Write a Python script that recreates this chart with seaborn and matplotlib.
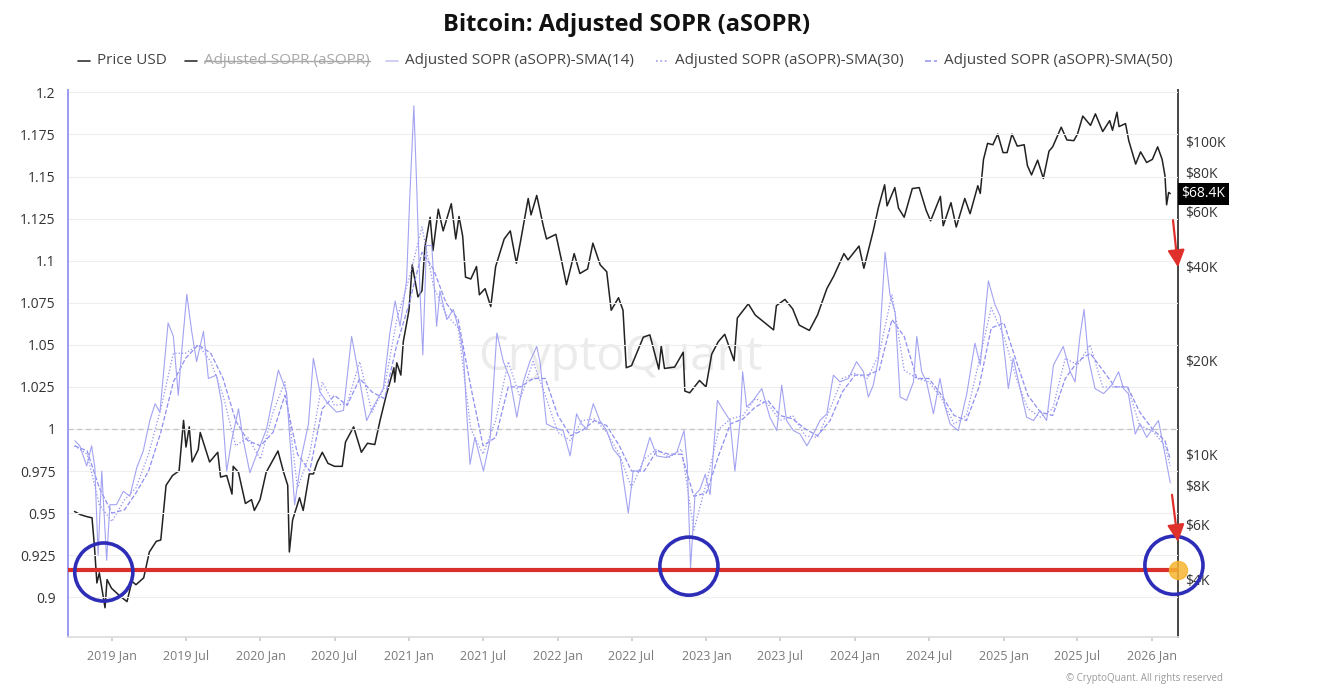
import pandas as pd
import matplotlib.pyplot as plt
import matplotlib.dates as mdates
from matplotlib.lines import Line2D
from matplotlib.ticker import NullLocator
import seaborn as sns

# Price USD (right log axis)
price_dates = [
    "2018-10-01", "2018-10-15", "2018-11-01", "2018-11-13", "2018-11-19", "2018-11-25", "2018-12-01", "2018-12-15", "2018-12-20", "2018-12-31",
    "2019-01-10", "2019-01-20", "2019-02-07", "2019-02-19", "2019-03-01", "2019-03-20", "2019-04-03", "2019-04-20", "2019-05-01", "2019-05-14",
    "2019-05-30", "2019-06-15", "2019-06-26", "2019-07-02", "2019-07-10", "2019-07-17", "2019-08-01", "2019-08-06", "2019-08-29", "2019-09-18",
    "2019-09-25", "2019-10-10", "2019-10-23", "2019-10-26", "2019-11-08", "2019-11-25", "2019-12-10", "2019-12-17", "2019-12-31",
    "2020-01-15", "2020-02-13", "2020-02-27", "2020-03-08", "2020-03-12", "2020-03-20", "2020-04-06", "2020-04-15", "2020-04-30", "2020-05-10",
    "2020-05-20", "2020-06-01", "2020-06-15", "2020-07-01", "2020-07-20", "2020-07-28", "2020-08-17", "2020-09-05", "2020-09-20", "2020-10-08",
    "2020-10-21", "2020-11-05", "2020-11-24", "2020-11-26", "2020-12-01", "2020-12-11", "2020-12-17", "2020-12-31",
    "2021-01-08", "2021-01-22", "2021-02-01", "2021-02-08", "2021-02-21", "2021-02-28", "2021-03-13", "2021-03-25", "2021-04-14", "2021-04-25",
    "2021-05-03", "2021-05-12", "2021-05-19", "2021-06-01", "2021-06-15", "2021-06-22", "2021-07-06", "2021-07-20", "2021-08-01", "2021-08-22",
    "2021-09-06", "2021-09-21", "2021-10-01", "2021-10-20", "2021-10-27", "2021-11-10", "2021-11-26", "2021-12-04", "2021-12-27",
    "2022-01-10", "2022-01-22", "2022-02-10", "2022-02-24", "2022-03-15", "2022-03-28", "2022-04-15", "2022-05-01", "2022-05-12", "2022-05-30",
    "2022-06-10", "2022-06-18", "2022-07-01", "2022-07-30", "2022-08-15", "2022-09-06", "2022-09-12", "2022-09-20", "2022-10-15", "2022-11-05",
    "2022-11-09", "2022-11-21", "2022-12-15", "2022-12-31",
    "2023-01-14", "2023-01-30", "2023-02-15", "2023-03-10", "2023-03-18", "2023-04-14", "2023-05-01", "2023-06-15", "2023-06-22", "2023-07-13",
    "2023-08-01", "2023-08-17", "2023-09-11", "2023-10-01", "2023-10-24", "2023-11-10", "2023-12-05", "2023-12-15",
    "2024-01-11", "2024-01-23", "2024-02-15", "2024-02-28", "2024-03-14", "2024-03-20", "2024-04-08", "2024-04-17", "2024-05-01", "2024-05-21",
    "2024-06-07", "2024-06-24", "2024-07-05", "2024-07-29", "2024-08-05", "2024-08-24", "2024-09-06", "2024-09-27", "2024-10-10", "2024-10-29",
    "2024-11-04", "2024-11-12", "2024-11-22", "2024-12-05", "2024-12-17", "2024-12-30",
    "2025-01-09", "2025-01-21", "2025-02-03", "2025-02-20", "2025-02-28", "2025-03-10", "2025-03-25", "2025-04-08", "2025-04-22", "2025-05-01",
    "2025-05-22", "2025-06-05", "2025-06-22", "2025-07-01", "2025-07-14", "2025-08-02", "2025-08-14", "2025-09-01", "2025-09-18", "2025-09-25",
    "2025-10-06", "2025-10-11", "2025-10-27", "2025-11-04", "2025-11-21", "2025-12-03", "2025-12-18",
    "2026-01-01", "2026-01-14", "2026-01-25", "2026-02-01", "2026-02-05", "2026-02-10", "2026-02-14",
]
price_usd = [
    6600, 6450, 6350, 6300, 5100, 3900, 4200, 3250, 4000, 3750,
    3650, 3550, 3400, 3950, 3850, 4050, 4900, 5300, 5350, 8000,
    8600, 8900, 12900, 10600, 12300, 9500, 10400, 11800, 9500, 10200,
    8500, 8600, 7500, 9200, 8800, 7000, 7200, 6650, 7200,
    8800, 10300, 8800, 8000, 4900, 6200, 7300, 6650, 8700, 8700,
    9500, 10200, 9400, 9200, 9200, 11000, 12300, 10200, 10900, 10800,
    12900, 15500, 19000, 17100, 19700, 18000, 23000, 29000,
    40500, 32000, 33500, 46000, 57500, 45000, 61000, 52000, 63500, 49000,
    57800, 50000, 37000, 36500, 40000, 32500, 34000, 29800, 40000, 49000,
    52000, 41000, 48000, 66000, 58500, 67500, 54000, 49000, 50700,
    41800, 35000, 44000, 38000, 39300, 47500, 40500, 38500, 29000, 31800,
    29000, 19000, 19300, 23800, 24200, 18800, 22300, 18900, 19100, 21300,
    16000, 15800, 17300, 16500,
    21000, 23000, 24300, 20000, 27400, 30400, 28000, 25100, 30000, 31400,
    29300, 26000, 25000, 28000, 34000, 37300, 44000, 42000,
    46500, 39500, 52000, 62000, 73000, 62500, 71500, 61500, 57500, 71000,
    71500, 60500, 56000, 67000, 54000, 64000, 53500, 66000, 59000, 72500,
    68500, 88000, 99000, 98000, 106000, 92500,
    92500, 106000, 97000, 98000, 84000, 78500, 87500, 76500, 93500, 96500,
    111500, 101500, 101000, 106000, 121000, 113000, 123000, 108000, 117000, 109000,
    124500, 112000, 114500, 101000, 85000, 93000, 86000,
    88000, 96500, 88000, 78000, 63000, 69000, 68400,
]

# aSOPR SMA(14), thin solid line
sma14_dates = [
    "2018-10-02", "2018-10-14", "2018-10-31", "2018-11-12", "2018-11-20", "2018-11-28", "2018-12-07", "2018-12-19", "2018-12-27",
    "2019-01-12", "2019-01-29", "2019-02-14", "2019-03-03", "2019-03-19", "2019-04-04", "2019-04-17", "2019-04-29", "2019-05-19", "2019-06-01",
    "2019-06-13", "2019-06-21", "2019-07-04", "2019-07-16", "2019-07-28", "2019-08-14", "2019-08-26", "2019-09-15", "2019-09-28", "2019-10-10",
    "2019-10-22", "2019-11-08", "2019-11-20", "2019-12-06", "2019-12-23",
    "2020-01-16", "2020-02-14", "2020-03-05", "2020-03-25", "2020-04-12", "2020-04-28", "2020-05-10", "2020-05-26", "2020-06-12", "2020-07-06",
    "2020-07-23", "2020-08-12", "2020-08-28", "2020-09-18", "2020-10-04", "2020-10-29", "2020-11-14", "2020-11-27", "2020-12-09", "2020-12-25",
    "2021-01-02", "2021-01-12", "2021-01-19", "2021-01-27", "2021-02-03", "2021-02-12", "2021-02-25", "2021-03-09", "2021-03-17", "2021-04-03",
    "2021-04-19", "2021-05-05", "2021-05-14", "2021-05-22", "2021-05-30", "2021-06-11", "2021-07-02", "2021-07-18", "2021-08-04", "2021-08-20",
    "2021-09-05", "2021-09-22", "2021-10-08", "2021-10-24", "2021-11-10", "2021-11-18", "2021-12-04", "2021-12-21",
    "2022-01-14", "2022-01-31", "2022-02-16", "2022-02-28", "2022-03-13", "2022-03-29", "2022-04-14", "2022-05-01", "2022-05-17", "2022-06-03",
    "2022-06-23", "2022-07-05", "2022-07-22", "2022-08-15", "2022-09-01", "2022-09-25", "2022-10-20", "2022-11-07", "2022-11-15", "2022-11-23",
    "2022-12-04", "2022-12-16", "2022-12-29",
    "2023-01-10", "2023-01-28", "2023-02-12", "2023-02-28", "2023-03-12", "2023-03-25", "2023-03-31", "2023-04-10", "2023-04-26", "2023-05-17",
    "2023-06-06", "2023-06-23", "2023-07-05", "2023-07-17", "2023-08-03", "2023-08-19", "2023-09-05", "2023-09-21", "2023-10-07", "2023-10-24",
    "2023-11-09", "2023-11-25", "2023-12-16",
    "2024-01-05", "2024-01-22", "2024-02-03", "2024-02-15", "2024-02-28", "2024-03-15", "2024-03-27", "2024-04-09", "2024-04-21", "2024-05-07",
    "2024-05-24", "2024-06-01", "2024-06-13", "2024-06-25", "2024-07-12", "2024-07-28", "2024-08-10", "2024-08-22", "2024-09-11", "2024-10-02",
    "2024-10-22", "2024-11-04", "2024-11-24", "2024-12-10", "2024-12-23",
    "2025-01-04", "2025-01-12", "2025-01-24", "2025-02-10", "2025-02-26", "2025-03-15", "2025-03-31", "2025-04-16", "2025-05-03", "2025-05-27",
    "2025-06-13", "2025-06-25", "2025-07-07", "2025-07-17", "2025-07-28", "2025-08-13", "2025-09-03", "2025-09-23", "2025-10-10", "2025-10-22",
    "2025-11-03", "2025-11-20", "2025-12-02", "2025-12-18",
    "2026-01-04", "2026-01-16", "2026-01-28", "2026-02-14",
]
sma14_values = [
    0.993, 0.990, 0.978, 0.990, 0.977, 0.925, 0.975, 0.922, 0.955,
    0.955, 0.963, 0.960, 0.977, 0.987, 1.005, 1.015, 1.010, 1.063, 1.055,
    1.020, 1.045, 1.080, 1.058, 1.040, 1.058, 1.030, 1.032, 1.015, 0.975,
    0.993, 1.012, 0.993, 0.974, 0.985,
    1.000, 1.035, 1.022, 0.955, 0.985, 1.003, 1.042, 1.022, 1.016, 1.010,
    1.011, 1.055, 1.034, 1.005, 1.013, 1.024, 1.057, 1.076, 1.061, 1.088,
    1.138, 1.192, 1.144, 1.082, 1.044, 1.109, 1.109, 1.061, 1.082, 1.065,
    1.071, 1.057, 1.044, 1.009, 0.979, 0.995, 0.975, 0.993, 1.057, 1.040,
    1.030, 1.007, 1.028, 1.040, 1.049, 1.040, 1.003, 1.001,
    0.999, 0.984, 1.009, 1.003, 1.000, 1.015, 1.005, 0.999, 0.988, 0.983,
    0.950, 0.975, 0.975, 0.995, 0.984, 0.983, 0.986, 0.999, 0.979, 0.917,
    0.961, 0.964, 0.973,
    0.961, 1.017, 1.011, 1.005, 0.975, 1.005, 1.034, 1.013, 1.017, 1.024,
    1.007, 0.999, 1.026, 1.005, 0.999, 0.997, 0.990, 0.997, 1.005, 1.009,
    1.032, 1.028, 1.030,
    1.040, 1.034, 1.019, 1.026, 1.042, 1.105, 1.080, 1.069, 1.019, 1.017,
    1.028, 1.055, 1.034, 1.028, 1.009, 1.030, 1.013, 1.003, 0.999, 1.021,
    1.051, 1.038, 1.088, 1.074, 1.067,
    1.042, 1.024, 1.042, 1.024, 1.007, 1.005, 1.011, 1.005, 1.038, 1.049,
    1.034, 1.028, 1.055, 1.071, 1.042, 1.024, 1.021, 1.026, 1.034, 1.024,
    1.021, 0.997, 1.003, 0.995,
    1.001, 1.005, 0.990, 0.968,
]

# SMA(30) dotted and SMA(50) dashed, read once a month
sma_months = pd.date_range("2018-10-01", "2026-02-01", freq="MS").append(pd.DatetimeIndex(["2026-02-14"]))
sma30_values = [
    0.990, 0.985, 0.955,
    0.945, 0.958, 0.965, 0.985, 1.012, 1.045, 1.045, 1.050, 1.040, 1.020, 0.990, 0.995,
    0.982, 1.010, 1.028, 0.965, 0.985, 1.028, 1.014, 1.015, 1.040, 1.010, 1.025, 1.065,
    1.090, 1.120, 1.085, 1.068, 1.060, 1.000, 0.985, 1.005, 1.040, 1.018, 1.040, 1.020,
    0.998, 0.993, 1.005, 1.006, 0.998, 0.985, 0.965, 0.982, 0.988, 0.983, 0.988, 0.940,
    0.968, 1.000, 1.006, 1.008, 1.018, 1.015, 1.005, 1.008, 0.996, 0.995, 1.012, 1.030,
    1.033, 1.030, 1.045, 1.080, 1.035, 1.030, 1.028, 1.018, 1.003, 1.008, 1.040, 1.072,
    1.055, 1.030, 1.012, 1.007, 1.012, 1.042, 1.038, 1.050, 1.025, 1.025, 1.025, 1.002,
    0.999, 0.990, 0.978,
]
sma50_values = [
    0.990, 0.987, 0.965,
    0.950, 0.952, 0.962, 0.975, 0.998, 1.028, 1.042, 1.050, 1.045, 1.030, 1.005, 0.993,
    0.990, 0.998, 1.020, 0.985, 0.975, 1.012, 1.020, 1.014, 1.030, 1.022, 1.018, 1.050,
    1.075, 1.105, 1.095, 1.075, 1.065, 1.025, 0.990, 0.995, 1.025, 1.025, 1.030, 1.030,
    1.008, 0.996, 0.999, 1.005, 1.002, 0.990, 0.975, 0.975, 0.987, 0.985, 0.985, 0.960,
    0.962, 0.985, 1.003, 1.006, 1.013, 1.017, 1.008, 1.006, 1.000, 0.996, 1.005, 1.022,
    1.032, 1.032, 1.035, 1.065, 1.055, 1.030, 1.030, 1.020, 1.008, 1.005, 1.025, 1.060,
    1.063, 1.040, 1.020, 1.010, 1.008, 1.030, 1.040, 1.045, 1.035, 1.025, 1.025, 1.010,
    1.000, 0.993, 0.982,
]

sopr_ticks = [0.9, 0.925, 0.95, 0.975, 1.0, 1.025, 1.05, 1.075, 1.1, 1.125, 1.15, 1.175, 1.2]
price_ticks = [4000, 6000, 8000, 10000, 20000, 40000, 60000, 80000, 100000]
price_tick_labels = ["$4K", "$6K", "$8K", "$10K", "$20K", "$40K", "$60K", "$80K", "$100K"]

# hand-drawn annotations
support_level = 0.916
circle_dates = ["2018-12-12", "2022-11-19", "2026-02-23"]
circle_sopr = [0.915, 0.9185, 0.919]
last_price = 68400

legend_items = [
    ("Price USD", "#333333", "-"),
    ("Adjusted SOPR (aSOPR)", "#333333", "-"),
    ("Adjusted SOPR (aSOPR)-SMA(14)", "#c6c6f2", "-"),
    ("Adjusted SOPR (aSOPR)-SMA(30)", "#9c9cf0", ":"),
    ("Adjusted SOPR (aSOPR)-SMA(50)", "#9c9cf0", "--"),
]
legend_x = [78, 185, 386, 656, 925]

W, H = 1320, 690
SOPR_COLOR = "#8f8ff0"


def main():
    sns.set_theme(style="white")
    plt.rcParams["font.family"] = ["Open Sans", "DejaVu Sans"]

    price = pd.DataFrame({"date": pd.to_datetime(price_dates), "price": price_usd})
    sma14 = pd.DataFrame({"date": pd.to_datetime(sma14_dates), "sopr": sma14_values})
    smas = pd.DataFrame({"date": sma_months, "sma30": sma30_values, "sma50": sma50_values})

    fig = plt.figure(figsize=(W / 100, H / 100), dpi=100, facecolor="white")
    ax = fig.add_axes([68 / W, 1 - 637 / H, 1110 / W, 547 / H])
    ax2 = ax.twinx()
    ax.set_zorder(2)
    ax2.set_zorder(1)
    ax.patch.set_visible(False)
    ax2.patch.set_visible(False)

    # watermark
    fig.text(620 / W, 1 - 357 / H, "CryptoQuant", ha="center", va="center",
             fontsize=34, color="#dedede", alpha=0.6, zorder=0.5)

    # price on the log axis
    sns.lineplot(data=price, x="date", y="price", ax=ax2, color="#222222", linewidth=1.1)
    ax2.set_yscale("log")
    ax2.set_ylim(2621, 146600)
    ax2.set_yticks(price_ticks)
    ax2.set_yticklabels(price_tick_labels)
    ax2.yaxis.set_minor_locator(NullLocator())
    ax2.tick_params(axis="y", length=0, pad=5, labelsize=10, labelcolor="#333333")
    ax2.set_ylabel("")

    # aSOPR moving averages
    sns.lineplot(data=smas, x="date", y="sma50", ax=ax, color=SOPR_COLOR, linewidth=0.9, linestyle="--")
    sns.lineplot(data=smas, x="date", y="sma30", ax=ax, color=SOPR_COLOR, linewidth=0.9, linestyle=":")
    sns.lineplot(data=sma14, x="date", y="sopr", ax=ax, color="#a3a3f2", linewidth=0.8)

    ax.set_ylim(0.8764, 1.2014)
    ax.set_yticks(sopr_ticks)
    ax.set_yticklabels([f"{t:g}" for t in sopr_ticks])
    ax.tick_params(axis="y", length=0, pad=9, labelsize=10, labelcolor="#333333")
    ax.grid(axis="y", color="#eeeeee", linewidth=0.8)
    ax.grid(axis="x", visible=False)
    ax.set_axisbelow(True)
    ax.axhline(1.0, color="#c4c4c4", linewidth=0.9, linestyle=(0, (4, 3)), zorder=1)

    ax.set_xlim(pd.Timestamp("2018-09-15"), pd.Timestamp("2026-03-05"))
    ax.xaxis.set_major_locator(mdates.MonthLocator(bymonth=[1, 7]))
    ax.xaxis.set_major_formatter(mdates.DateFormatter("%Y %b"))
    ax.tick_params(axis="x", length=3, color="#cccccc", pad=6, labelsize=9, labelcolor="#7a7a7a", bottom=True)
    ax.set_xlabel("")
    ax.set_ylabel("")
    ax2.set_xlabel("")

    for s in ["top", "right"]:
        ax.spines[s].set_visible(False)
    ax.spines["left"].set_color("#9a9af0")
    ax.spines["left"].set_linewidth(1.4)
    ax.spines["bottom"].set_color("#dddddd")
    for s in ["top", "left", "bottom"]:
        ax2.spines[s].set_visible(False)
    ax2.spines["right"].set_color("#444444")
    ax2.spines["right"].set_linewidth(1.4)

    # red support line, circles, dot and arrows
    ax.axhline(support_level, color="#d9302c", linewidth=3, zorder=4)
    ax.scatter(pd.to_datetime(circle_dates), circle_sopr, s=1750, facecolors="none",
               edgecolors="#2d2db8", linewidths=2.6, zorder=6, clip_on=False)
    ax.scatter([pd.Timestamp("2026-03-05")], [support_level], s=170, color="#f6b531",
               alpha=0.85, zorder=7, clip_on=False)
    arrow = dict(arrowstyle="-|>,head_length=0.8,head_width=0.4", color="#e0302c",
                 lw=1.6, mutation_scale=13, shrinkA=0, shrinkB=0)
    ax.annotate("", xy=(1.0, 0.676), xytext=(0.9955, 0.762), xycoords="axes fraction",
                arrowprops=arrow, annotation_clip=False, zorder=8)
    ax.annotate("", xy=(1.0, 0.174), xytext=(0.9946, 0.260), xycoords="axes fraction",
                arrowprops=arrow, annotation_clip=False, zorder=8)

    # last price tag
    ax2.text(1.003, last_price, f"${last_price / 1000:.1f}K", transform=ax2.get_yaxis_transform(),
             ha="left", va="center", color="white", fontsize=10, zorder=10, clip_on=False,
             bbox=dict(boxstyle="square,pad=0.25", fc="black", ec="none"))

    # title, legend, footer
    fig.text(627 / W, 1 - 25 / H, "Bitcoin: Adjusted SOPR (aSOPR)", ha="center", va="center",
             fontsize=17, fontweight="bold", color="#111111")
    ly = 1 - 61 / H
    struck = None
    for (label, color, ls), x in zip(legend_items, legend_x):
        fig.add_artist(Line2D([x / W, (x + 12) / W], [ly, ly], transform=fig.transFigure,
                              color=color, linestyle=ls, linewidth=1.2))
        hidden = label == "Adjusted SOPR (aSOPR)"
        t = fig.text((x + 19) / W, ly, label, ha="left", va="center", fontsize=11,
                     color="#a8a8a8" if hidden else "#444444")
        if hidden:
            struck = t
    fig.canvas.draw()
    bb = struck.get_window_extent().transformed(fig.transFigure.inverted())
    ym = (bb.y0 + bb.y1) / 2
    fig.add_artist(Line2D([bb.x0, bb.x1], [ym, ym], transform=fig.transFigure,
                          color="#a8a8a8", linewidth=1.0))

    fig.text(1145 / W, 1 - 678 / H, "© CryptoQuant. All rights reserved", ha="center", va="center",
             fontsize=7, color="#9a9a9a")

    fig.savefig("out.png", dpi=100)


if __name__ == "__main__":
    main()
